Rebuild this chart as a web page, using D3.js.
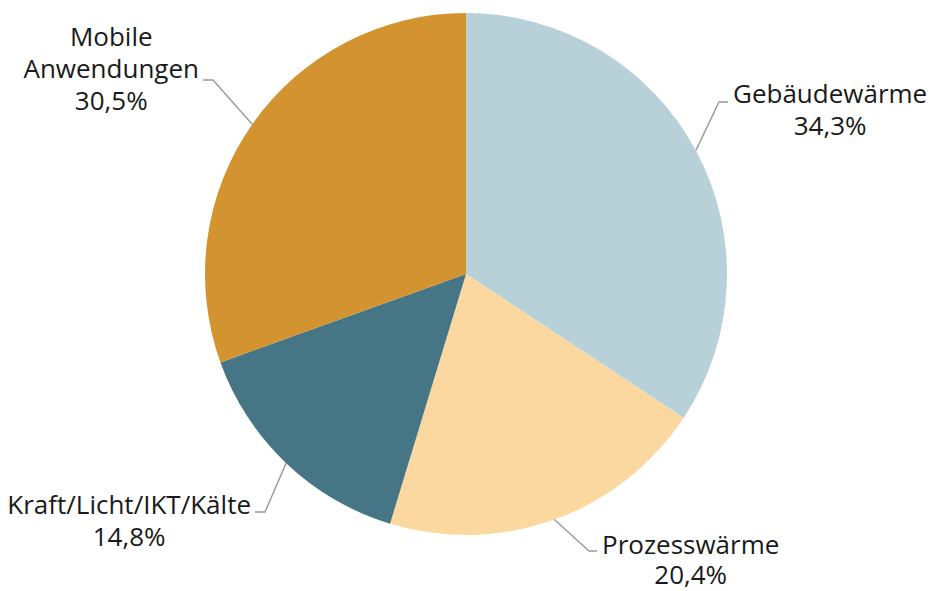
<!DOCTYPE html>
<html><head><meta charset="utf-8">
<script src="https://cdn.jsdelivr.net/npm/d3@7"></script>
<style>body{margin:0;background:#fff}text{font-family:"Open Sans",sans-serif;fill:#1a1a1a}</style>
</head><body><svg id="c" width="931" height="591"></svg>
<script>
const categories = ["Gebäudewärme", "Prozesswärme", "Kraft/Licht/IKT/Kälte", "Mobile Anwendungen"];
const values = [34.3, 20.4, 14.8, 30.5];
const colors = ["#B8D1D8", "#FAD8A0", "#467586", "#D49331"];
const labelLines = [["Gebäudewärme"], ["Prozesswärme"], ["Kraft/Licht/IKT/Kälte"], ["Mobile", "Anwendungen"]];

const cx = 466, cy = 274, R = 261;
// label layout: leader angle (deg), elbow point, line end, text x, baseline of last name line, gap to percent line
const layout = [
  {ang: null, elbow: [719, 102], end: [728, 102], tx: 733, side: "start", by: 103, pg: 32},
  {ang: null, elbow: [589, 551], end: [597, 551], tx: 602, side: "start", by: 554, pg: 30},
  {ang: null, elbow: [265, 512], end: [255, 512], tx: 251, side: "end", by: 514, pg: 32},
  {ang: 305, elbow: [213, 80], end: [203, 80], tx: 199, side: "end", by: 78, pg: 32}
];
const fs = 26, lh = 32;

const svg = d3.select("#c");
const g = svg.append("g").attr("transform", `translate(${cx},${cy})`);
const pie = d3.pie().sort(null).value(d => d)(values);
const arc = d3.arc().innerRadius(0).outerRadius(R);
g.selectAll("path").data(pie).join("path").attr("d", arc).attr("fill", (d, i) => colors[i]);

const fmt = v => d3.format(".1f")(v).replace(".", ",") + "%";
pie.forEach((d, i) => {
  const L = layout[i];
  const a = L.ang !== null ? L.ang * Math.PI / 180 : (d.startAngle + d.endAngle) / 2;
  const p0 = [cx + R * Math.sin(a), cy - R * Math.cos(a)];
  svg.append("polyline").attr("points", [p0, L.elbow, L.end].map(p => p.join(",")).join(" "))
    .attr("fill", "none").attr("stroke", "#9a9a9a").attr("stroke-width", 1.4);
  const lines = labelLines[i];
  const lastIdx = lines.length - 1;
  const tmp = svg.append("text").attr("font-size", fs).text(lines[lastIdx]);
  const w = tmp.node().getComputedTextLength(); tmp.remove();
  const centerX = L.side === "start" ? L.tx + w / 2 : L.tx - w / 2;
  const baseY = L.by - lastIdx * lh;
  const t = svg.append("text").attr("font-size", fs).attr("text-anchor", "middle");
  lines.forEach((s, k) => {
    t.append("tspan").attr("x", centerX).attr("y", baseY + k * lh).text(s);
  });
  t.append("tspan").attr("x", centerX).attr("y", L.by + L.pg).text(fmt(values[i]));
});
</script></body></html>
